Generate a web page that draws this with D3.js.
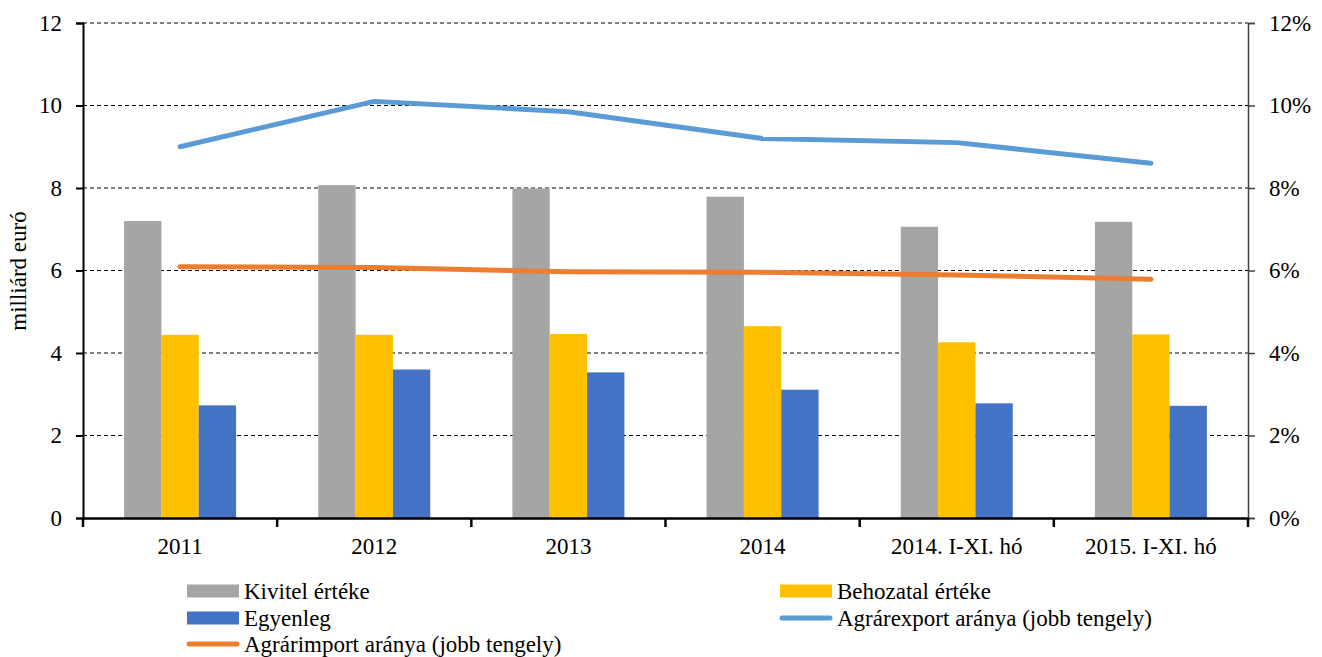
<!DOCTYPE html>
<html>
<head>
<meta charset="utf-8">
<script src="https://cdn.jsdelivr.net/npm/d3@7"></script>
<style>
  body { margin: 0; background: #fff; }
  svg text { font-family: "Liberation Serif"; fill: #000; }
</style>
</head>
<body>
<svg id="chart" width="1322" height="657"></svg>
<script>
var categories = ['2011', '2012', '2013', '2014', '2014. I-XI. hó', '2015. I-XI. hó'];
var kivitel = [7.2, 8.07, 7.99, 7.79, 7.06, 7.18];
var behozatal = [4.44, 4.44, 4.46, 4.65, 4.26, 4.45];
var egyenleg = [2.73, 3.6, 3.53, 3.11, 2.78, 2.72];
var exportArany = [9.0, 10.1, 9.85, 9.2, 9.1, 8.6];
var importArany = [6.09, 6.07, 5.97, 5.96, 5.89, 5.79];
var leftTicks = [0, 2, 4, 6, 8, 10, 12];
var rightTicks = [0, 2, 4, 6, 8, 10, 12];

var FONT = 'Liberation Serif';
var FS = 23;

var barSeries = [
  { name: 'Kivitel értéke', values: kivitel, color: '#A5A5A5' },
  { name: 'Behozatal értéke', values: behozatal, color: '#FFC000' },
  { name: 'Egyenleg', values: egyenleg, color: '#4472C4' }
];
var lineSeries = [
  { name: 'Agrárexport aránya (jobb tengely)', values: exportArany, color: '#5B9BD5' },
  { name: 'Agrárimport aránya (jobb tengely)', values: importArany, color: '#ED7D31' }
];

var margin = { left: 83, right: 1322 - 1248, top: 23, bottom: 657 - 518 };
var width = 1322 - margin.left - margin.right;
var height = 657 - margin.top - margin.bottom;

var svg = d3.select('#chart');
var g = svg.append('g').attr('transform', 'translate(' + margin.left + ',' + margin.top + ')');

var x = d3.scaleBand().domain(categories).range([0, width]);
var xInner = d3.scaleBand().domain(barSeries.map(function (s) { return s.name; }))
  .range([0, 112]);
var y = d3.scaleLinear().domain([0, 12]).range([height, 0]);
var y2 = d3.scaleLinear().domain([0, 12]).range([height, 0]);

// gridlines
g.append('g').selectAll('line')
  .data(leftTicks.filter(function (d) { return d > 0; }))
  .enter().append('line')
  .attr('x1', 0).attr('x2', width)
  .attr('y1', function (d) { return y(d); }).attr('y2', function (d) { return y(d); })
  .attr('stroke', '#000').attr('stroke-width', 1).attr('stroke-dasharray', '4,3');

// bars
var groupOffset = (x.bandwidth() - 112) / 2;
barSeries.forEach(function (s) {
  g.append('g').selectAll('rect')
    .data(s.values)
    .enter().append('rect')
    .attr('x', function (d, i) { return x(categories[i]) + groupOffset + xInner(s.name); })
    .attr('width', xInner.bandwidth())
    .attr('y', function (d) { return y(d); })
    .attr('height', function (d) { return y(0) - y(d); })
    .attr('fill', s.color);
});

// lines
var line = d3.line()
  .x(function (d, i) { return x(categories[i]) + x.bandwidth() / 2; })
  .y(function (d) { return y2(d); });
lineSeries.forEach(function (s) {
  g.append('path')
    .datum(s.values)
    .attr('d', line)
    .attr('fill', 'none')
    .attr('stroke', s.color)
    .attr('stroke-width', 5)
    .attr('stroke-linecap', 'round')
    .attr('stroke-linejoin', 'round');
});

// left axis
var yAxis = d3.axisLeft(y).tickValues(leftTicks).tickSize(7).tickPadding(14);
var ga = g.append('g').call(yAxis).attr('font-family', FONT).attr('font-size', FS);
ga.select('.domain').attr('stroke', '#000').attr('stroke-width', 2);
ga.selectAll('.tick line').attr('stroke', '#000').attr('stroke-width', 2);

// right axis
var y2Axis = d3.axisRight(y2).tickValues(rightTicks).tickSize(7).tickPadding(14)
  .tickFormat(function (d) { return d + '%'; });
var gb = g.append('g').attr('transform', 'translate(' + width + ',0)').call(y2Axis)
  .attr('font-family', FONT).attr('font-size', FS);
gb.select('.domain').attr('stroke', '#404040').attr('stroke-width', 1.5);
gb.selectAll('.tick line').attr('stroke', '#404040').attr('stroke-width', 1.5);

// x axis
var xAxis = d3.axisBottom(x).tickSize(0).tickPadding(20);
var gx = g.append('g').attr('transform', 'translate(0,' + height + ')').call(xAxis)
  .attr('font-family', FONT).attr('font-size', FS);
gx.select('.domain').attr('stroke', '#000').attr('stroke-width', 2.5);
gx.append('g').selectAll('line')
  .data(d3.range(categories.length + 1))
  .enter().append('line')
  .attr('x1', function (i) { return i * x.step(); })
  .attr('x2', function (i) { return i * x.step(); })
  .attr('y1', 0).attr('y2', 9)
  .attr('stroke', '#000').attr('stroke-width', 2.5);

// y title
svg.append('text')
  .attr('transform', 'translate(26,271) rotate(-90)')
  .attr('text-anchor', 'middle')
  .attr('font-family', FONT).attr('font-size', FS)
  .text('milliárd euró');

// legend
var legendItems = [
  { s: barSeries[0], type: 'bar', x: 187, y: 591 },
  { s: barSeries[1], type: 'bar', x: 780, y: 591 },
  { s: barSeries[2], type: 'bar', x: 187, y: 618 },
  { s: lineSeries[0], type: 'line', x: 780, y: 618 },
  { s: lineSeries[1], type: 'line', x: 187, y: 644 }
];
var lg = svg.append('g').attr('font-family', FONT).attr('font-size', FS);
legendItems.forEach(function (it) {
  if (it.type === 'bar') {
    lg.append('rect').attr('x', it.x).attr('y', it.y - 6.5).attr('width', 52).attr('height', 13)
      .attr('fill', it.s.color);
  } else {
    lg.append('line').attr('x1', it.x + 2).attr('x2', it.x + 50).attr('y1', it.y).attr('y2', it.y)
      .attr('stroke', it.s.color).attr('stroke-width', 5).attr('stroke-linecap', 'round');
  }
  lg.append('text').attr('x', it.x + 57).attr('y', it.y + 8).text(it.s.name);
});
</script>
</body>
</html>
